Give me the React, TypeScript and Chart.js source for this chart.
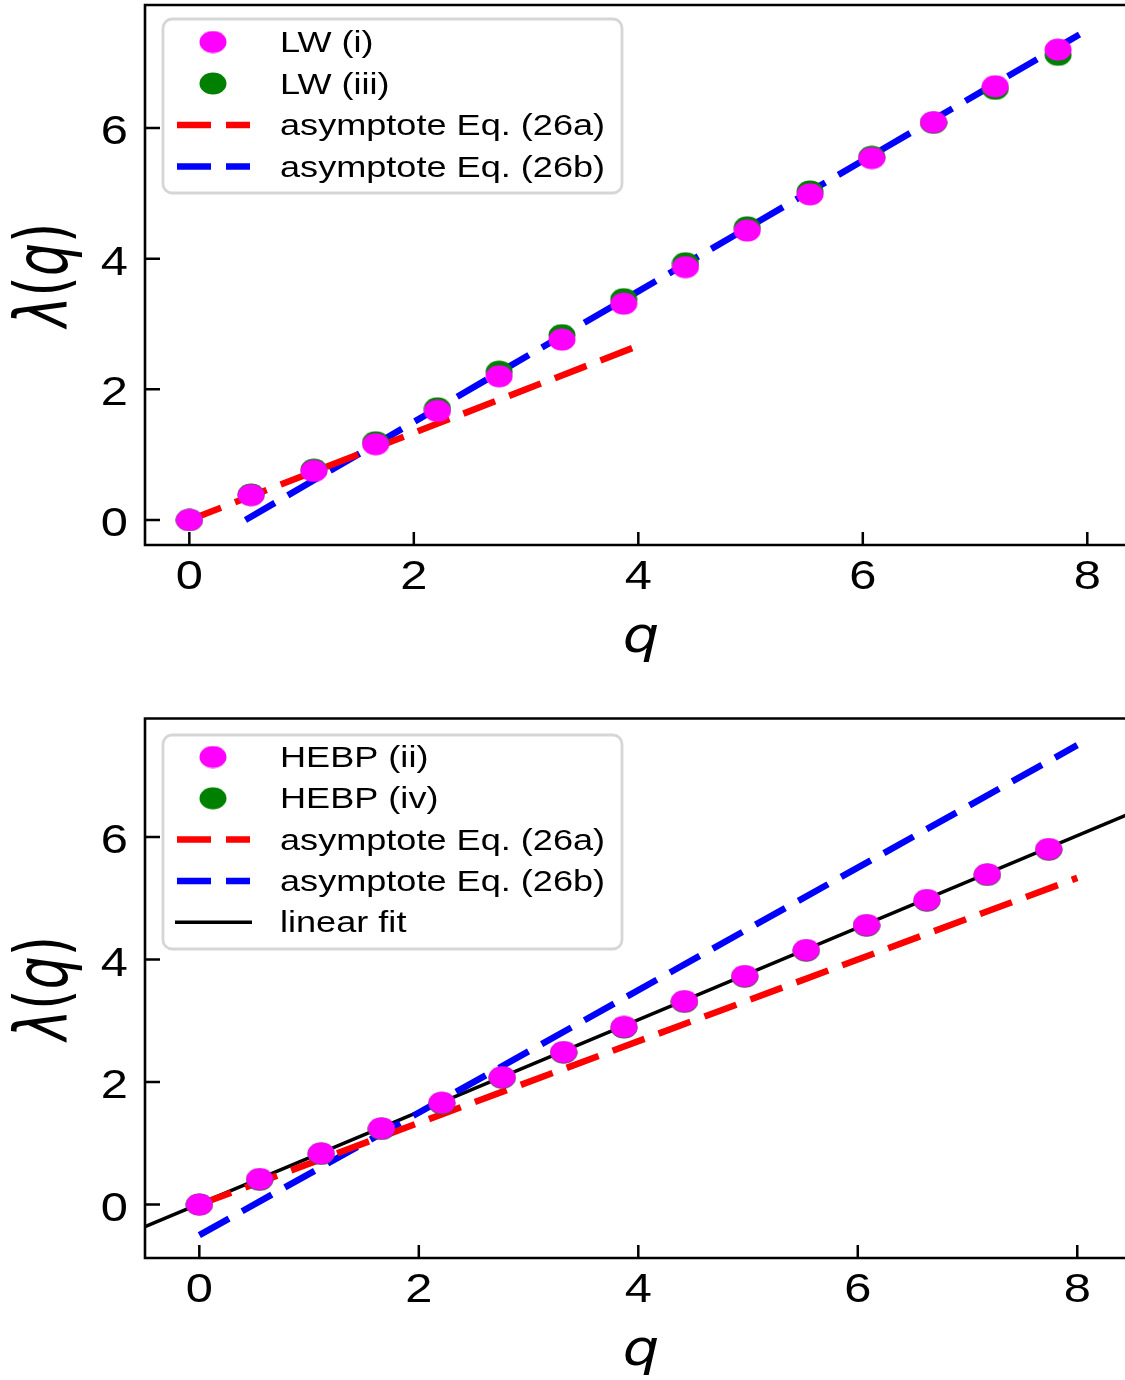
import React, { useEffect, useRef } from 'react';
import { Chart, registerables } from 'chart.js';

Chart.register(...registerables);

// ---------------- data ----------------
const qValues = [0, 0.55, 1.11, 1.66, 2.21, 2.76, 3.32, 3.87, 4.42, 4.97, 5.53, 6.08, 6.63, 7.18, 7.74];

const lwI = [0, 0.38, 0.75, 1.16, 1.67, 2.2, 2.76, 3.31, 3.87, 4.43, 4.985, 5.54, 6.09, 6.64, 7.2];
const lwIII = [0, 0.39, 0.77, 1.19, 1.71, 2.27, 2.83, 3.38, 3.93, 4.48, 5.03, 5.56, 6.08, 6.6, 7.12];

const hebpII = [0, 0.416, 0.836, 1.244, 1.662, 2.08, 2.49, 2.9, 3.32, 3.73, 4.155, 4.563, 4.971, 5.391, 5.804];
const hebpIV = [0, 0.405, 0.826, 1.234, 1.652, 2.07, 2.48, 2.89, 3.31, 3.72, 4.145, 4.553, 4.961, 5.381, 5.794];

// asymptote lines (end points)
const topAsymAQ = [0, 4];
const topAsymALambda = [0, 2.667];
const topAsymBQ = [0.5, 8];
const topAsymBLambda = [0, 7.5];

const botAsymAQ = [0, 8];
const botAsymALambda = [0, 5.333];
const botAsymBQ = [0, 8];
const botAsymBLambda = [-0.5, 7.5];

const fitQ = [-0.5, 8.5];
const fitLambda = [-0.366, 6.397];

const xTickValues = [0, 2, 4, 6, 8];
const yTickValues = [0, 2, 4, 6];

const topLabels = ['LW (i)', 'LW (iii)', 'asymptote Eq. (26a)', 'asymptote Eq. (26b)'];
const botLabels = ['HEBP (ii)', 'HEBP (iv)', 'asymptote Eq. (26a)', 'asymptote Eq. (26b)', 'linear fit'];

// ---------------- helpers ----------------
const FONT = '"Liberation Sans", Arial, sans-serif';
const MATH = '"DejaVu Sans", sans-serif';
const STRETCH = 1.22;
const LEGEND_STRETCH = 1.245;
const PINK = '#ff00ff';
const GREEN = '#008000';
const RED = '#ff0000';
const BLUE = '#0000ff';

function pts(xs: number[], ys: number[]) {
  return xs.map((x, i) => ({ x, y: ys[i] }));
}

function makeEllipse(color: string, w: number, h: number) {
  const c = document.createElement('canvas');
  c.width = w;
  c.height = h;
  const g = c.getContext('2d')!;
  g.fillStyle = color;
  g.beginPath();
  g.ellipse(w / 2, h / 2, w / 2 - 0.5, h / 2 - 0.5, 0, 0, Math.PI * 2);
  g.fill();
  return c;
}

function stretchedText(ctx: CanvasRenderingContext2D, text: string, x: number, y: number, align: CanvasTextAlign, font: string, sx: number) {
  ctx.save();
  ctx.font = font;
  ctx.textAlign = align;
  ctx.textBaseline = 'alphabetic';
  ctx.fillStyle = '#000';
  ctx.translate(x, y);
  ctx.scale(sx, 1);
  ctx.fillText(text, 0, 0);
  ctx.restore();
}

type DecorCfg = {
  box: { x: number; y: number; w: number; h: number };
  row0: number;
  dy: number;
  xLabelBaseline: number;
};

function makeDecor(cfg: DecorCfg) {
  return {
    id: 'decor',
    afterDraw(chart: any) {
      const { ctx, chartArea, scales } = chart;
      const { left, top, right, bottom } = chartArea;
      const xs = scales.x;
      const ys = scales.y;
      ctx.save();
      // inward ticks
      ctx.strokeStyle = '#000';
      ctx.lineWidth = 2.5;
      ctx.beginPath();
      xTickValues.forEach((v) => {
        const px = xs.getPixelForValue(v);
        ctx.moveTo(px, bottom);
        ctx.lineTo(px, bottom - 13);
      });
      yTickValues.forEach((v) => {
        const py = ys.getPixelForValue(v);
        ctx.moveTo(left, py);
        ctx.lineTo(left + 15, py);
      });
      ctx.stroke();

      // tick labels
      xTickValues.forEach((v) => {
        stretchedText(ctx, String(v), xs.getPixelForValue(v), bottom + 44, 'center', `40px ${FONT}`, STRETCH);
      });
      yTickValues.forEach((v) => {
        stretchedText(ctx, String(v), left - 17, ys.getPixelForValue(v) + 16, 'right', `40px ${FONT}`, STRETCH);
      });

      // spines
      ctx.lineWidth = 2.6;
      ctx.lineCap = 'square';
      ctx.beginPath();
      ctx.moveTo(right + 5, top);
      ctx.lineTo(left, top);
      ctx.lineTo(left, bottom);
      ctx.lineTo(right + 5, bottom);
      ctx.stroke();
      ctx.lineCap = 'butt';

      // legend box
      const b = cfg.box;
      ctx.beginPath();
      (ctx as any).roundRect(b.x, b.y, b.w, b.h, 9);
      ctx.fillStyle = 'rgba(255,255,255,0.85)';
      ctx.fill();
      ctx.strokeStyle = '#d6d6d6';
      ctx.lineWidth = 2.8;
      ctx.stroke();

      chart.data.datasets.forEach((ds: any, i: number) => {
        const cy = cfg.row0 + i * cfg.dy;
        if (!ds.showLine) {
          const img = ds.pointStyle as HTMLCanvasElement;
          ctx.drawImage(img, 213 - img.width / 2, cy - img.height / 2);
        } else {
          ctx.save();
          ctx.strokeStyle = ds.borderColor;
          ctx.lineWidth = ds.borderWidth;
          ctx.setLineDash(ds.borderDash || []);
          ctx.beginPath();
          if (ds.borderDash) {
            ctx.moveTo(177, cy);
            ctx.lineTo(250, cy);
          } else {
            ctx.moveTo(175, cy);
            ctx.lineTo(252, cy);
          }
          ctx.stroke();
          ctx.restore();
        }
        stretchedText(ctx, ds.label, 280, cy + 10, 'left', `29px ${FONT}`, LEGEND_STRETCH);
      });

      // x axis title
      stretchedText(ctx, 'q', 641, cfg.xLabelBaseline, 'center', `italic 50px ${MATH}`, 1.15);

      // y axis title  λ(q)
      ctx.save();
      ctx.fillStyle = '#000';
      const cy = (top + bottom) / 2;
      ctx.translate(67, cy);
      ctx.rotate(-Math.PI / 2);
      ctx.scale(1, 1.4);
      ctx.textBaseline = 'alphabetic';
      ctx.textAlign = 'left';
      const parts = [
        { t: 'λ', it: true },
        { t: '(', it: false },
        { t: 'q', it: true },
        { t: ')', it: false },
      ];
      let total = 0;
      const widths = parts.map((p) => {
        ctx.font = `${p.it ? 'italic ' : ''}52px ${MATH}`;
        const w = ctx.measureText(p.t).width;
        total += w;
        return w;
      });
      let x0 = -total / 2;
      parts.forEach((p, i) => {
        ctx.font = `${p.it ? 'italic ' : ''}52px ${MATH}`;
        ctx.fillText(p.t, x0, 0);
        x0 += widths[i];
      });
      ctx.restore();

      ctx.restore();
    },
  };
}

function scaleOpts(min: number, max: number, axis: 'x' | 'y', boxSize: number) {
  return {
    type: 'linear',
    min,
    max,
    grid: { display: false, drawTicks: false },
    border: { display: false },
    ticks: { display: false },
    afterBuildTicks: (s: any) => {
      s.ticks = (axis === 'x' ? xTickValues : yTickValues).map((v) => ({ value: v }));
    },
    afterFit: (s: any) => {
      if (axis === 'x') s.height = boxSize;
      else s.width = boxSize;
      s.paddingLeft = 0;
      s.paddingRight = 0;
      s.paddingTop = 0;
      s.paddingBottom = 0;
    },
  };
}

function pointDs(label: string, data: any[], img: HTMLCanvasElement) {
  return {
    label,
    data,
    showLine: false,
    pointStyle: img,
    pointRadius: 13,
    pointHoverRadius: 13,
  };
}

function lineDs(label: string, data: any[], color: string, width: number, dash?: number[]) {
  const d: any = {
    label,
    data,
    showLine: true,
    borderColor: color,
    borderWidth: width,
    pointRadius: 0,
    pointHoverRadius: 0,
    fill: false,
    tension: 0,
  };
  if (dash) d.borderDash = dash;
  return d;
}

function baseOptions(topPad: number, xMin: number, xMax: number, yMin: number, yMax: number, xBox: number) {
  return {
    animation: false,
    responsive: false,
    devicePixelRatio: 1,
    events: [],
    layout: { autoPadding: false, padding: { top: topPad, left: 0, right: 0, bottom: 0 } },
    plugins: { legend: { display: false }, tooltip: { enabled: false } },
    scales: {
      x: scaleOpts(xMin, xMax, 'x', xBox),
      y: scaleOpts(yMin, yMax, 'y', 145),
    },
  } as any;
}

export default function App() {
  const topRef = useRef<HTMLCanvasElement>(null);
  const botRef = useRef<HTMLCanvasElement>(null);

  useEffect(() => {
    document.body.style.margin = '0';
    document.body.style.overflow = 'hidden';
    const pinkImg = makeEllipse(PINK, 28, 23);
    const greenImg = makeEllipse(GREEN, 28, 23);

    const topChart = new Chart(topRef.current!, {
      type: 'scatter',
      data: {
        datasets: [
          pointDs(topLabels[0], pts(qValues, lwI), pinkImg),
          pointDs(topLabels[1], pts(qValues, lwIII), greenImg),
          lineDs(topLabels[2], pts(topAsymAQ, topAsymALambda), RED, 6.5, [34, 15]),
          lineDs(topLabels[3], pts(topAsymBQ, topAsymBLambda), BLUE, 6.5, [34, 15]),
        ] as any,
      },
      options: baseOptions(5, -0.395, 8.336, -0.383, 7.883, 145),
      plugins: [makeDecor({ box: { x: 163, y: 19, w: 459, h: 174 }, row0: 42, dy: 41.5, xLabelBaseline: 652 })],
    });

    const botChart = new Chart(botRef.current!, {
      type: 'scatter',
      data: {
        datasets: [
          pointDs(botLabels[0], pts(qValues, hebpII), pinkImg),
          pointDs(botLabels[1], pts(qValues, hebpIV), greenImg),
          lineDs(botLabels[2], pts(botAsymAQ, botAsymALambda), RED, 6.5, [34, 15]),
          lineDs(botLabels[3], pts(botAsymBQ, botAsymBLambda), BLUE, 6.5, [34, 15]),
          lineDs(botLabels[4], pts(fitQ, fitLambda), '#000', 3.5),
        ] as any,
      },
      options: baseOptions(28.5, -0.495, 8.435, -0.873, 7.935, 122),
      plugins: [makeDecor({ box: { x: 163, y: 45, w: 459, h: 214 }, row0: 67, dy: 41.3, xLabelBaseline: 675 })],
    });

    return () => {
      topChart.destroy();
      botChart.destroy();
    };
  }, []);

  return (
    <div style={{ position: 'absolute', left: 0, top: 0, width: 1125, height: 1380, background: '#fff' }}>
      <canvas ref={topRef} width={1125} height={690} style={{ display: 'block', width: 1125, height: 690 }} />
      <canvas ref={botRef} width={1125} height={690} style={{ display: 'block', width: 1125, height: 690 }} />
    </div>
  );
}
